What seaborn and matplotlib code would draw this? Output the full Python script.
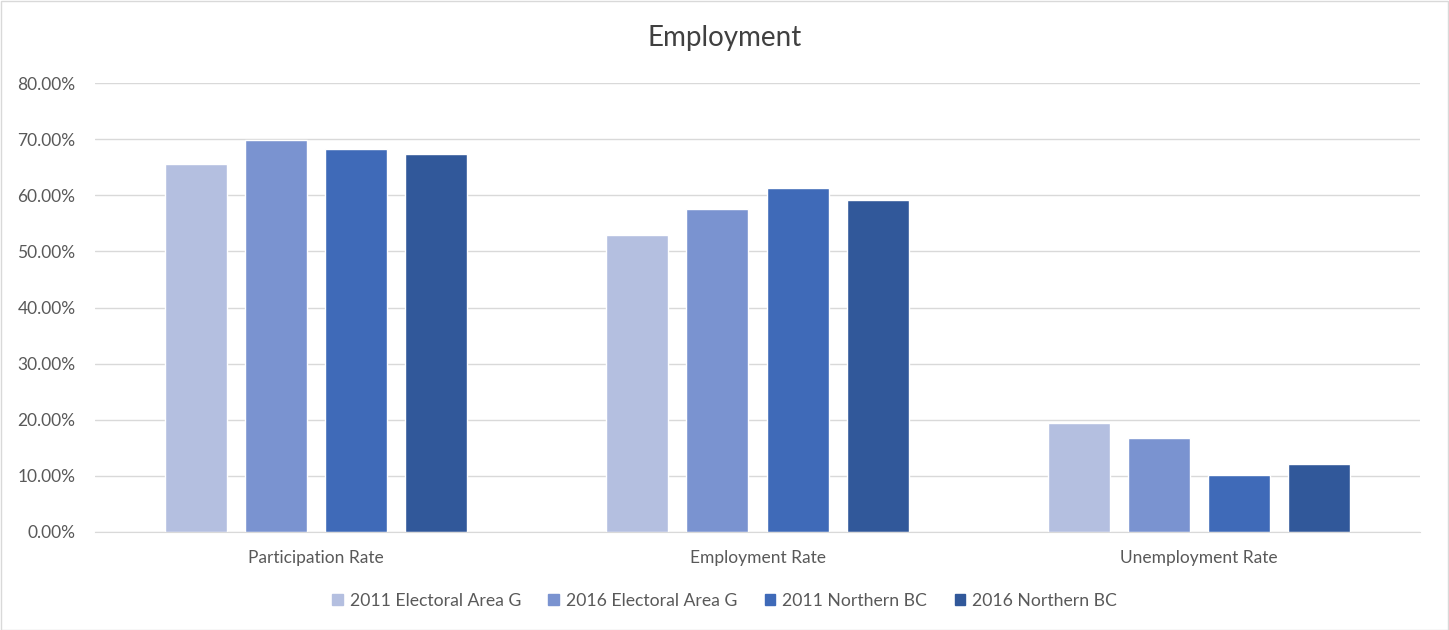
import pandas as pd
import numpy as np
import seaborn as sns
import matplotlib.pyplot as plt
from matplotlib.ticker import PercentFormatter
from matplotlib.patches import Rectangle

categories = ['Participation Rate', 'Employment Rate', 'Unemployment Rate']
series = ['2011 Electoral Area G', '2016 Electoral Area G', '2011 Northern BC', '2016 Northern BC']
area_g_2011 = [65.5, 52.9, 19.4]
area_g_2016 = [69.8, 57.5, 16.7]
northern_2011 = [68.2, 61.3, 10.2]
northern_2016 = [67.4, 59.1, 12.2]
colors = ['#B4BFE0', '#7A93D0', '#3F6AB8', '#31589A']

rows = []
for name, vals in zip(series, [area_g_2011, area_g_2016, northern_2011, northern_2016]):
    for cat, v in zip(categories, vals):
        rows.append({'Category': cat, 'Series': name, 'Value': v})
df = pd.DataFrame(rows)

sns.set_style('white')
plt.rcParams['font.family'] = ['Lato', 'DejaVu Sans']

fig = plt.figure(figsize=(14.49, 6.3), dpi=100)
ax = fig.add_axes([95 / 1449, 1 - 532 / 630, 1325 / 1449, 449 / 630])

sns.barplot(data=df, x='Category', y='Value', hue='Series', order=categories,
            hue_order=series, palette=colors, width=0.725, gap=0.225,
            saturation=1, ax=ax, legend=False)

ax.set_ylim(0, 80)
ax.set_yticks(np.arange(0, 81, 10))
ax.yaxis.set_major_formatter(PercentFormatter(decimals=2))
ax.grid(axis='y', color='#D9D9D9', linewidth=1)
ax.set_axisbelow(True)
for side in ['top', 'right', 'left']:
    ax.spines[side].set_visible(False)
ax.spines['bottom'].set_color('#D9D9D9')
ax.tick_params(axis='both', length=0, colors='#595959', labelsize=12.5)
ax.tick_params(axis='x', pad=13)
ax.tick_params(axis='y', pad=14)
ax.set_xlabel('')
ax.set_ylabel('')

fig.text(0.5, 1 - 38 / 630, 'Employment', ha='center', va='center',
         fontsize=20, color='#404040')

handles = [Rectangle((0, 0), 1, 1, color=c) for c in colors]
fig.legend(handles, series, loc='center', bbox_to_anchor=(0.5, 1 - 601 / 630),
           ncol=4, frameon=False, fontsize=12.7, labelcolor='#595959',
           handlelength=0.6, handleheight=0.6, handletextpad=0.4, columnspacing=1.55)

fig.patches.append(Rectangle((0.5 / 1449, 0.5 / 630), 1 - 1.5 / 1449, 1 - 1.5 / 630,
                             transform=fig.transFigure, fill=False,
                             edgecolor='#D9D9D9', linewidth=1))

plt.savefig('out.png', dpi=100)
